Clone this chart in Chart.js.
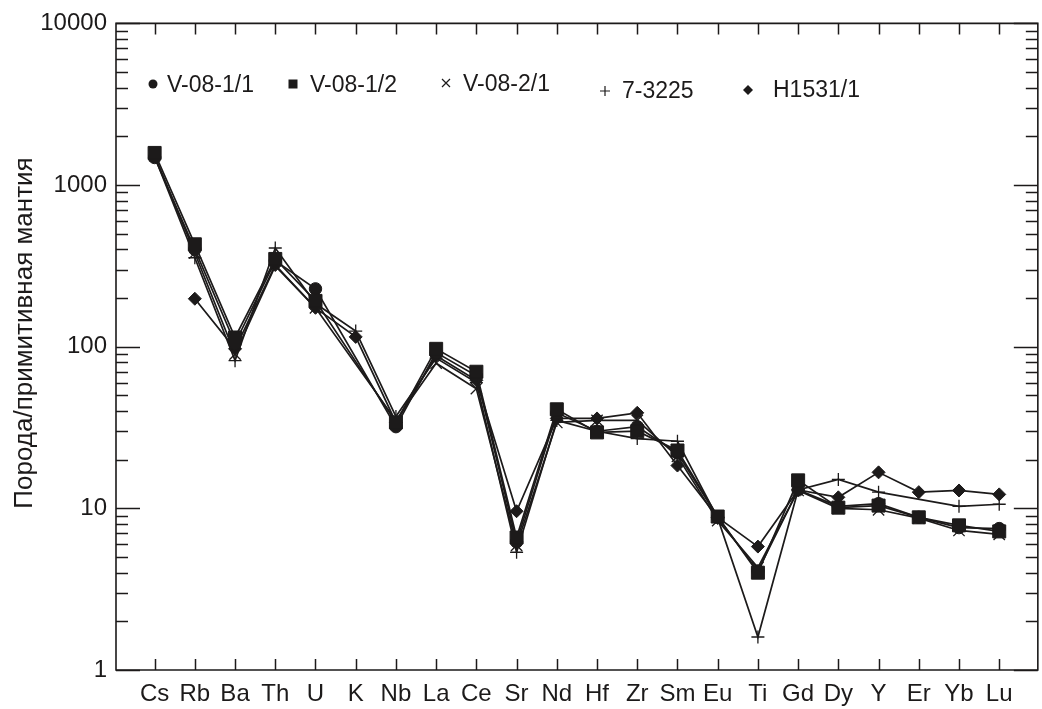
<!DOCTYPE html>
<html>
<head>
<meta charset="utf-8">
<script src="https://cdn.jsdelivr.net/npm/chart.js@4.4.1/dist/chart.umd.min.js"></script>
<style>
  html, body { margin: 0; padding: 0; background: #ffffff; overflow: hidden; }
  #wrap { width: 1042px; height: 709px; }
  canvas { display: block; }
</style>
</head>
<body>
<div id="wrap"><canvas id="c" width="1042" height="709"></canvas></div>
<script>
// Elements, in spider-diagram order
const ELEMENTS = ['Cs','Rb','Ba','Th','U','K','Nb','La','Ce','Sr','Nd','Hf','Zr','Sm','Eu','Ti','Gd','Dy','Y','Er','Yb','Lu'];

// Rock / primitive mantle ratios per sample (null = not determined)
const V_08_1_1 = [1480, 400, 105, 340, 228, null, 32, 92, 66, 6.2, 39, 30, 32, 22, 8.8, 4.1, 13, 10.3, 10.7, 8.8, 7.6, 7.5];
const V_08_1_2 = [1580, 430, 114, 349, 192, null, 34, 97, 70, 6.6, 41, 29.5, 30, 22.8, 8.9, 4.0, 14.9, 10.1, 10.4, 8.8, 7.85, 7.2];
const V_08_2_1 = [1520, 380, 90, 316, 174, null, 35, 79, 55, 5.9, 34, 35, 35, 21, 8.4, 4.3, 12.9, 10.0, 9.8, 8.7, 7.3, 6.9];
const S_7_3225 = [1500, 355, 82, 408, 185, 125, 37, 85, 60, 5.35, 35, 30, 27, 26, 8.7, 1.6, 13, 15.1, 12.6, null, 10.3, 10.6];
const H1531_1  = [null, 198, 97, 320, 174, 115, 34, 88, 62, 9.6, 36, 36, 39, 18.4, 8.8, 5.8, 13, 11.7, 16.7, 12.6, 12.9, 12.2];

const SAMPLE_NAMES = ['V-08-1/1', 'V-08-1/2', 'V-08-2/1', '7-3225', 'H1531/1'];
const Y_TICK_LABELS = [1, 10, 100, 1000, 10000];
const Y_TITLE = 'Порода/примитивная мантия';

// x range of the frame: the right-hand frame edge sits just past the visible canvas
const X_MIN = -0.96;
const X_VISIBLE_MAX = 21.81;
const X_FRAME_MAX = 21.96;

const INK = '#1c1a1a';
const FONT = '"Liberation Sans", Arial, sans-serif';

function toPoints(values) {
  return values
    .map((v, i) => ({ x: i, y: v }))
    .filter(p => p.y !== null);
}

const markerStyles = [
  { pointStyle: 'circle',   radius: 6.2, order: 1 },
  { pointStyle: 'rect',     radius: 9.2, order: 0 },
  { pointStyle: 'crossRot', radius: 8,   order: 2 },
  { pointStyle: 'cross',    radius: 6.5, order: 3 },
  { pointStyle: 'rectRot',  radius: 6.5, order: 4 }
];
const seriesValues = [V_08_1_1, V_08_1_2, V_08_2_1, S_7_3225, H1531_1];

const datasets = seriesValues.map((vals, k) => ({
  label: SAMPLE_NAMES[k],
  data: toPoints(vals),
  borderColor: INK,
  backgroundColor: INK,
  borderWidth: 1.7,
  pointStyle: markerStyles[k].pointStyle,
  pointRadius: markerStyles[k].radius,
  pointBorderWidth: (markerStyles[k].pointStyle.startsWith('cross')) ? 1.3 : 1,
  pointBackgroundColor: INK,
  pointBorderColor: INK,
  order: markerStyles[k].order,
  tension: 0,
  fill: false,
  clip: false
}));

// Box frame with inward ticks on all four sides, plus the rotated axis title
const framePlugin = {
  id: 'frame',
  beforeDatasetsDraw(chart) {
    const { ctx, chartArea: a, scales } = chart;
    const xs = scales.x, ys = scales.y;
    const right = xs.getPixelForValue(X_FRAME_MAX);
    ctx.save();
    ctx.strokeStyle = INK;
    ctx.lineWidth = 1.6;
    ctx.beginPath();
    ctx.moveTo(a.left, a.top); ctx.lineTo(right, a.top);
    ctx.lineTo(right, a.bottom); ctx.lineTo(a.left, a.bottom);
    ctx.closePath();
    ctx.stroke();

    ctx.lineWidth = 1.5;
    ctx.beginPath();
    for (let d = 1; d <= 10000; d *= 10) {
      for (let m = 1; m <= 9; m++) {
        const v = d * m;
        if (v > 10000) break;
        const y = Math.round(ys.getPixelForValue(v)) + 0.5;
        const len = (m === 1) ? 24 : 12;
        ctx.moveTo(a.left, y); ctx.lineTo(a.left + len, y);
        ctx.moveTo(right, y); ctx.lineTo(right - len, y);
      }
    }
    ELEMENTS.forEach((_, i) => {
      const x = Math.round(xs.getPixelForValue(i)) + 0.5;
      ctx.moveTo(x, a.bottom); ctx.lineTo(x, a.bottom - 11);
      ctx.moveTo(x, a.top); ctx.lineTo(x, a.top + 11);
    });
    ctx.stroke();

    ctx.fillStyle = INK;
    ctx.font = '26px ' + FONT;
    ctx.textAlign = 'center';
    ctx.textBaseline = 'alphabetic';
    ctx.translate(32, 333);
    ctx.rotate(-Math.PI / 2);
    ctx.fillText(Y_TITLE, 0, 0);
    ctx.restore();
  }
};

// Legend row inside the plot
const legendPlugin = {
  id: 'sampleLegend',
  afterDraw(chart) {
    const ctx = chart.ctx;
    const items = [
      { mx: 153, my: 84, tx: 167, ty: 92 },
      { mx: 293, my: 84, tx: 310, ty: 92 },
      { mx: 446, my: 83, tx: 463, ty: 91 },
      { mx: 605, my: 91, tx: 622, ty: 98 },
      { mx: 748, my: 90, tx: 773, ty: 97 }
    ];
    ctx.save();
    ctx.fillStyle = INK;
    ctx.strokeStyle = INK;
    ctx.lineWidth = 1.2;
    items.forEach((it, k) => {
      const style = markerStyles[k].pointStyle;
      const x = it.mx, y = it.my;
      ctx.beginPath();
      if (style === 'circle') {
        ctx.arc(x, y, 4.5, 0, Math.PI * 2); ctx.fill();
      } else if (style === 'rect') {
        ctx.fillRect(x - 4.5, y - 4.5, 9, 9);
      } else if (style === 'crossRot') {
        ctx.moveTo(x - 4, y - 4); ctx.lineTo(x + 4, y + 4);
        ctx.moveTo(x + 4, y - 4); ctx.lineTo(x - 4, y + 4); ctx.stroke();
      } else if (style === 'cross') {
        ctx.moveTo(x - 5, y); ctx.lineTo(x + 5, y);
        ctx.moveTo(x, y - 5); ctx.lineTo(x, y + 5); ctx.stroke();
      } else {
        ctx.moveTo(x - 5, y); ctx.lineTo(x, y - 5); ctx.lineTo(x + 5, y); ctx.lineTo(x, y + 5);
        ctx.closePath(); ctx.fill();
      }
      ctx.font = '23px ' + FONT;
      ctx.textAlign = 'left';
      ctx.textBaseline = 'alphabetic';
      ctx.fillText(SAMPLE_NAMES[k], it.tx, it.ty);
    });
    ctx.restore();
  }
};

new Chart(document.getElementById('c'), {
  type: 'line',
  data: { datasets },
  options: {
    responsive: false,
    animation: false,
    devicePixelRatio: 1,
    layout: { padding: { top: 22, right: 0, left: 0, bottom: 0 } },
    plugins: { legend: { display: false }, tooltip: { enabled: false } },
    scales: {
      x: {
        type: 'linear',
        min: X_MIN,
        max: X_VISIBLE_MAX,
        afterFit: (s) => { s.height = 39; s.paddingLeft = 0; s.paddingRight = 0; },
        afterBuildTicks: (s) => { s.ticks = ELEMENTS.map((_, i) => ({ value: i })); },
        grid: { display: false, drawTicks: false },
        border: { display: false },
        ticks: {
          autoSkip: false,
          maxRotation: 0,
          padding: 10,
          color: INK,
          font: { family: FONT, size: 24 },
          callback: (v) => ELEMENTS[v] ?? ''
        }
      },
      y: {
        type: 'logarithmic',
        min: 1,
        max: 10000,
        afterFit: (s) => { s.width = 116; },
        grid: { display: false, drawTicks: false },
        border: { display: false },
        ticks: {
          autoSkip: false,
          padding: 9,
          color: INK,
          font: { family: FONT, size: 24 },
          callback: (v) => Y_TICK_LABELS.includes(v) ? String(v) : ''
        }
      }
    }
  },
  plugins: [framePlugin, legendPlugin]
});
</script>
</body>
</html>
